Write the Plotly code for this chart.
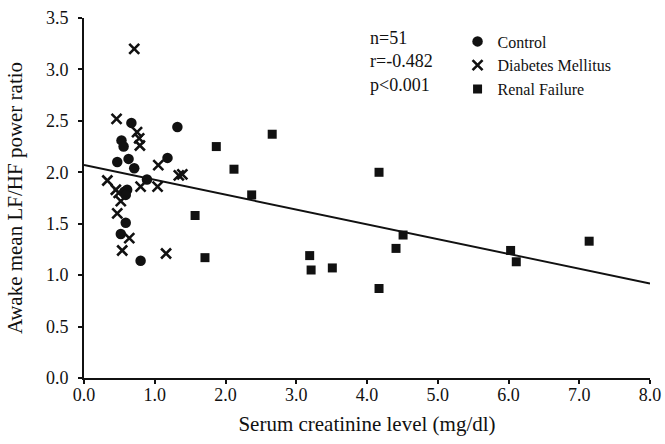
import plotly.graph_objects as go
import numpy as np

control_x = [0.67, 1.32, 0.53, 0.56, 0.47, 0.63, 0.71, 1.18, 0.89, 0.57, 0.61, 0.59, 0.59, 0.52, 0.80]
control_y = [2.48, 2.44, 2.31, 2.25, 2.10, 2.13, 2.04, 2.14, 1.93, 1.81, 1.83, 1.78, 1.51, 1.40, 1.14]

dm_x = [0.71, 0.46, 0.75, 0.78, 0.79, 1.05, 1.34, 1.39, 0.33, 0.80, 1.04, 0.45, 0.49, 0.52, 0.47, 0.64, 0.54, 1.16]
dm_y = [3.20, 2.52, 2.39, 2.33, 2.26, 2.07, 1.97, 1.98, 1.92, 1.86, 1.86, 1.83, 1.80, 1.72, 1.60, 1.36, 1.24, 1.21]

rf_x = [1.57, 1.71, 1.87, 2.12, 2.37, 2.66, 3.19, 3.21, 3.51, 4.17, 4.17, 4.41, 4.51, 6.03, 6.11, 7.14]
rf_y = [1.58, 1.17, 2.25, 2.03, 1.78, 2.37, 1.19, 1.05, 1.07, 2.00, 0.87, 1.26, 1.39, 1.24, 1.13, 1.33]

fit_intercept = 2.07
fit_slope = -0.144
fit_range = [0.0, 8.0]

x_ticks = [0, 1, 2, 3, 4, 5, 6, 7, 8]
x_tick_labels = ["0.0", "1.0", "2.0", "3.0", "4.0", "5.0", "6.0", "7.0", "8.0"]
y_ticks = [0, 0.5, 1.0, 1.5, 2.0, 2.5, 3.0, 3.5]
y_tick_labels = ["0.0", "0.5", "1.0", "1.5", "2.0", "2.5", "3.0", "3.5"]

stats_text = "n=51<br>r=-0.482<br>p<0.001"

FONT = "Liberation Serif, Times New Roman, serif"
INK = "#111111"

fig = go.Figure()
fig.add_trace(go.Scatter(x=control_x, y=control_y, mode="markers", name="Control",
                         marker=dict(symbol="circle", size=10.5, color=INK)))
fig.add_trace(go.Scatter(x=dm_x, y=dm_y, mode="markers", name="Diabetes Mellitus",
                         marker=dict(symbol="x-thin", size=10, color=INK,
                                     line=dict(width=2.6, color=INK))))
fig.add_trace(go.Scatter(x=rf_x, y=rf_y, mode="markers", name="Renal Failure",
                         marker=dict(symbol="square", size=9, color=INK)))
fx = np.array(fit_range)
fig.add_trace(go.Scatter(x=fx, y=fit_intercept + fit_slope * fx, mode="lines",
                         line=dict(color=INK, width=2), showlegend=False, hoverinfo="skip"))

fig.add_annotation(x=4.02, y=3.42, xref="x", yref="y", text=stats_text, showarrow=False,
                   xanchor="left", yanchor="top", align="left",
                   font=dict(family=FONT, size=18, color=INK))

fig.update_layout(
    width=665, height=444,
    margin=dict(l=84, r=15, t=18, b=66),
    paper_bgcolor="white", plot_bgcolor="white",
    font=dict(family=FONT, size=18, color=INK),
    legend=dict(x=0.66, y=0.982, xanchor="left", yanchor="top",
                bgcolor="rgba(0,0,0,0)", font=dict(family=FONT, size=16, color=INK),
                tracegroupgap=0),
    xaxis=dict(range=[0, 8], tickvals=x_ticks, ticktext=x_tick_labels, automargin=False,
               showgrid=False, zeroline=False, showline=True, linecolor=INK, linewidth=2,
               ticks="outside", ticklen=4, tickwidth=2, tickcolor=INK, ticklabelstandoff=-5,
               title=dict(text="Serum creatinine level (mg/dl)", standoff=13,
                          font=dict(family=FONT, size=21, color=INK))),
    yaxis=dict(range=[0, 3.5], tickvals=y_ticks, ticktext=y_tick_labels, automargin=False,
               showgrid=False, zeroline=False, showline=True, linecolor=INK, linewidth=2,
               ticks="outside", ticklen=4, tickwidth=2, tickcolor=INK, ticklabelstandoff=6,
               title=dict(text="Awake mean LF/HF power ratio", standoff=18,
                          font=dict(family=FONT, size=21, color=INK))),
)

fig.write_html("out.html", config={"displayModeBar": False},
               post_script="document.body.style.margin='0';document.body.style.overflow='hidden';")
